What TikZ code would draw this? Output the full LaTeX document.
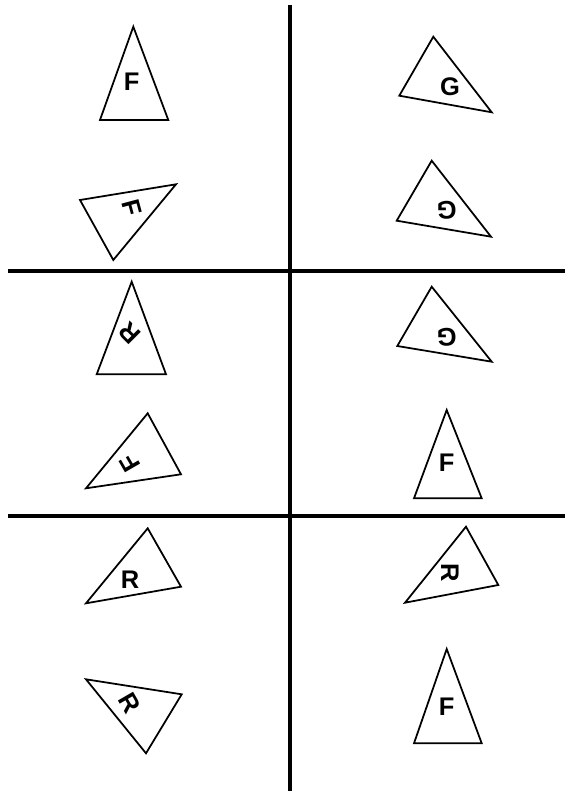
\documentclass[tikz,border=0pt]{standalone}
\usepackage{fontspec}
\setmainfont{Liberation Sans}
\tikzset{
    card/.style    = {x=0.02cm, y=-0.02cm},
    tri/.style     = {draw, line width=1pt, line join=miter},
    letter/.style  = {inner sep=0pt, font=\fontsize{14.5}{14.5}\selectfont\bfseries},
    divider/.style = {line width=2.3pt}
}
\begin{document}
\begin{tikzpicture}[card]
\useasboundingbox (0,0) rectangle (566,797);

% Dividing lines
\coordinate (top) at (290,5);
\coordinate (bottom) at (290,791);
\coordinate (r1 west) at (8,271);
\coordinate (r1 east) at (565,271);
\coordinate (r2 west) at (8,516);
\coordinate (r2 east) at (565,516);
\draw[divider] (top) -- (bottom);
\draw[divider] (r1 west) -- (r1 east);
\draw[divider] (r2 west) -- (r2 east);

% Top pair, left
\draw[tri] (133.3,26.7) -- (100,120) -- (168.3,120) -- cycle;
\node[letter] (f1) at (131.7,82) {F};
\draw[tri] (80,200) -- (176,184.3) -- (113.3,260) -- cycle;
\node[letter, rotate=-75] (f2) at (131.7,208) {F};

% Top pair, right
\draw[tri] (433.3,36.7) -- (399.3,95.7) -- (491.7,112.3) -- cycle;
\node[letter] (g1) at (450,87) {G};
\draw[tri] (431.7,160.7) -- (396.7,220.7) -- (491,236.7) -- cycle;
\node[letter, rotate=180] (g2) at (446.7,210) {G};

% Middle pair, left
\draw[tri] (131.7,281.7) -- (96.7,374.3) -- (166,374.3) -- cycle;
\node[letter, rotate=135] (r1) at (130,333) {R};
\draw[tri] (147.7,413.3) -- (86,488.3) -- (181,474.3) -- cycle;
\node[letter, rotate=120] (f3) at (130,463) {F};

% Middle pair, right
\draw[tri] (431.7,286.7) -- (397.3,346) -- (491.7,361.7) -- cycle;
\node[letter, rotate=180] (g3) at (446.7,337) {G};
\draw[tri] (446.7,410) -- (414,498.3) -- (481.7,498.3) -- cycle;
\node[letter] (f4) at (446.7,463) {F};

% Bottom pair, left
\draw[tri] (147.7,528.3) -- (86,603.3) -- (181,586.7) -- cycle;
\node[letter] (r2) at (130,580) {R};
\draw[tri] (86,679.3) -- (181.7,694.3) -- (146,753.3) -- cycle;
\node[letter, rotate=-60] (r3) at (130,703) {R};

% Bottom pair, right
\draw[tri] (466,526.7) -- (405,602.7) -- (498.3,585) -- cycle;
\node[letter, rotate=-90] (r4) at (450,573) {R};
\draw[tri] (446.7,649) -- (414,743.3) -- (481.7,743.3) -- cycle;
\node[letter] (f5) at (446.7,707) {F};

\end{tikzpicture}
\end{document}
